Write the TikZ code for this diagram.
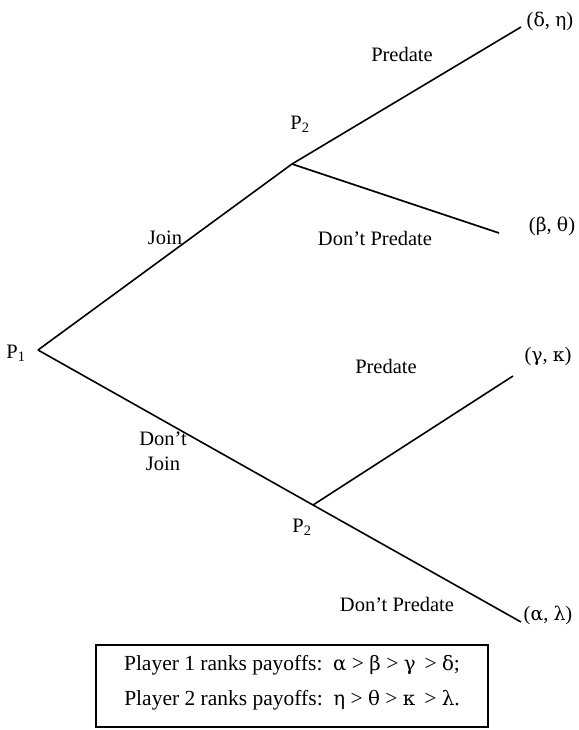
\documentclass[tikz,border=0pt]{standalone}
\usepackage{fontspec}
\setmainfont{Liberation Serif}
\newfontfamily\gkfont[Scale=0.92]{DejaVu Serif}
\newcommand{\grk}[1]{{\gkfont #1}}
\begin{document}
\begin{tikzpicture}[x=1pt,y=-1pt,
  lab/.style={font=\fontsize{20.5}{24}\selectfont, inner sep=0pt},
  boxtxt/.style={font=\fontsize{21.5}{25}\selectfont, inner sep=0pt},
  br/.style={line width=1.6pt}]
\useasboundingbox (0,0) rectangle (578,730);
\coordinate (p1) at (38,350);
\coordinate (p2u) at (292,164);
\coordinate (p2l) at (313,505);
\coordinate (e1) at (521,27);
\coordinate (e2) at (499,233);
\coordinate (e3) at (513,376);
\coordinate (e4) at (521,622);
\draw[br] (p1) -- (p2u) -- (e1);
\draw[br] (p2u) -- (e2);
\draw[br] (p1) -- (p2l) -- (e4);
\draw[br] (p2l) -- (e3);
\node[lab] (lp1) at (16,353) {P\textsubscript{1}};
\node[lab] (lp2u) at (300,124) {P\textsubscript{2}};
\node[lab] (lp2l) at (302,527) {P\textsubscript{2}};
\node[lab] (join) at (165,238) {Join};
\node[lab, align=center] (djoin) at (163,451) {Don’t\\[1pt]Join};
\node[lab] (pu) at (402,54) {Predate};
\node[lab] (dpu) at (375,238) {Don’t Predate};
\node[lab] (pl) at (386,366) {Predate};
\node[lab] (dpl) at (397,604) {Don’t Predate};
\node[lab] (o1) at (550,21) {(\grk{δ}, \grk{η})};
\node[lab] (o2) at (552,226) {(\grk{β}, \grk{θ})};
\node[lab] (o3) at (548,357) {(\grk{γ}, \grk{κ})};
\node[lab] (o4) at (548,615) {(\grk{α}, \grk{λ})};
\draw[line width=1.6pt] (96,645) rectangle (488,727);
\node[boxtxt] (r1) at (292,665) {Player 1 ranks payoffs:\ \ \grk{α} > \grk{β} > \grk{γ}\ \,> \grk{δ};};
\node[boxtxt] (r2) at (292,700) {Player 2 ranks payoffs:\ \ \grk{η} > \grk{θ} > \grk{κ}\ \,> \grk{λ}.};
\end{tikzpicture}
\end{document}
